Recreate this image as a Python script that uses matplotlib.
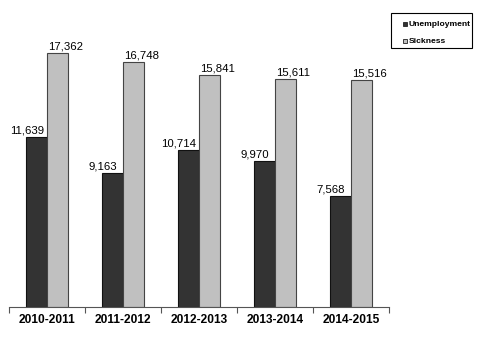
import matplotlib
matplotlib.use("Agg")
import matplotlib.pyplot as plt
from matplotlib.patches import Rectangle
import numpy as np

categories = ["2010-2011", "2011-2012", "2012-2013", "2013-2014", "2014-2015"]
series_names = ["Unemployment", "Sickness"]
unemployment = [11639, 9163, 10714, 9970, 7568]
sickness = [17362, 16748, 15841, 15611, 15516]
colors = ["#333333", "#c0c0c0"]

plt.rcParams['font.family'] = ['Liberation Sans', 'DejaVu Sans']

fig = plt.figure(figsize=(5.0, 3.42), dpi=100)
ax = fig.add_axes([0.018, 0.1023, 0.76, 0.855])

x = np.arange(len(categories))
w = 0.28
b1 = ax.bar(x - w/2, unemployment, w, color=colors[0], edgecolor="#111111", linewidth=0.8)
b2 = ax.bar(x + w/2, sickness, w, color=colors[1], edgecolor="#444444", linewidth=0.8)

for rect, v in zip(b1, unemployment):
    ax.annotate(f"{v:,}", (rect.get_x() + rect.get_width()/2 - 0.125, v),
                xytext=(0, 2.6), textcoords="offset points",
                ha="center", va="baseline", fontsize=8.2)
for rect, v in zip(b2, sickness):
    ax.annotate(f"{v:,}", (rect.get_x() + rect.get_width()/2 + 0.1, v),
                xytext=(0, 2.6), textcoords="offset points",
                ha="center", va="baseline", fontsize=8.2)

ax.set_xlim(-0.5, len(categories) - 0.5)
ax.set_ylim(0, 20000)
ax.set_xticks(np.arange(-0.5, len(categories)))
ax.set_xticklabels([])
ax.tick_params(axis="x", length=4, width=0.8, color="#555555")
for i, c in enumerate(categories):
    ax.annotate(c, (i, 0), xytext=(0, -5.3), textcoords="offset points",
                ha="center", va="top", fontsize=8.6, fontweight="bold")
ax.set_yticks([])
for s in ["top", "right", "left"]:
    ax.spines[s].set_visible(False)
ax.spines["bottom"].set_color("#555555")
ax.spines["bottom"].set_linewidth(0.8)

# legend box drawn in pixel-like figure coordinates
W, H = 500.0, 342.0
def fx(px):
    return px / W
def fy(py):
    return 1 - py / H

fig.patches.append(Rectangle((fx(391), fy(48)), fx(472) - fx(391), (48 - 13) / H,
                             transform=fig.transFigure, facecolor="white",
                             edgecolor="black", linewidth=0.8))
rows_y = [24, 40.7]
for name, col, ry in zip(series_names, colors, rows_y):
    fig.patches.append(Rectangle((fx(403), fy(ry + 2.2)), 4.4 / W, 4.4 / H,
                                 transform=fig.transFigure, facecolor=col,
                                 edgecolor="#222222", linewidth=0.6))
    fig.text(fx(408.5), fy(ry), name, ha="left", va="center_baseline",
             fontsize=6.1, fontweight="bold")

fig.savefig("out.png", dpi=100)
